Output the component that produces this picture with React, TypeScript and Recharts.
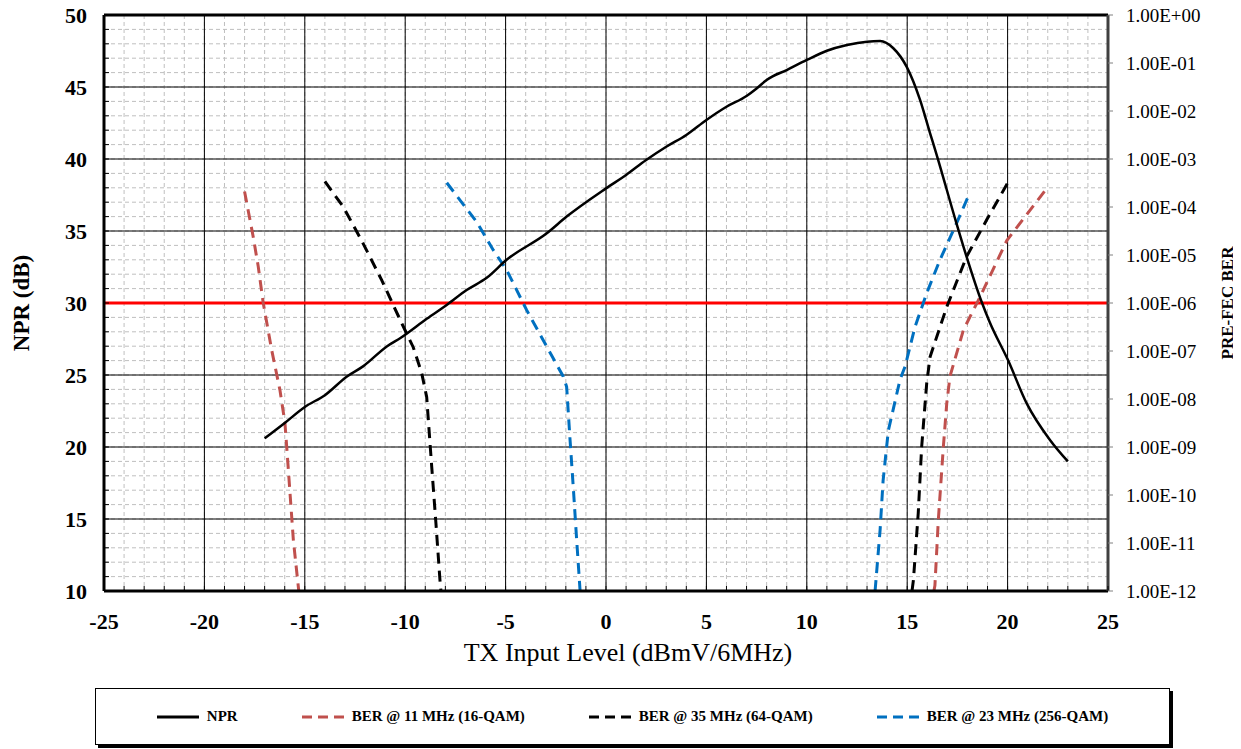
import React from "react";
import { LineChart, Line, XAxis, YAxis, CartesianGrid, ReferenceLine } from "recharts";

const FONT = "'Liberation Serif', 'Times New Roman', serif";

// NPR vs TX input level: [dBmV/6MHz, dB]
const nprCurve: [number, number][] = [
  [-17, 20.6], [-16, 21.67], [-15, 22.78], [-14, 23.6], [-12.9, 24.9], [-12.1, 25.6],
  [-10.9, 27.0], [-10.2, 27.6], [-8.93, 28.9], [-7.9, 29.9], [-6.94, 30.9], [-5.94, 31.75],
  [-4.95, 33.0], [-2.95, 34.84], [-1.96, 36.0], [0, 37.96], [1, 38.89], [2, 39.93],
  [3, 40.85], [4, 41.67], [5, 42.71], [6, 43.63], [7, 44.38], [7.5, 44.9], [8, 45.49],
  [9, 46.18], [10, 46.88], [11, 47.52], [12, 47.92], [13, 48.15], [13.65, 48.19],
  [14.31, 47.69], [14.97, 46.41], [15.64, 44.1], [16.14, 41.78], [16.4, 40.6],
  [17.46, 35.5], [17.96, 33.2], [18.7, 30.1], [19.1, 28.7], [20.03, 26.0],
  [20.95, 23.03], [22.11, 20.49], [23, 19.0],
];

// pre-FEC BER branches: [dBmV/6MHz, BER]
const ber16Low: [number, number][] = [
  [-18, 2.1e-4], [-17.57, 2.4e-5], [-17.32, 5.8e-6], [-17.07, 1.0e-6], [-16.65, 1.05e-7],
  [-16.24, 1.55e-8], [-15.99, 3.2e-9], [-15.9, 1.0e-9], [-15.57, 1.15e-11], [-15.3, 1e-12],
];
const ber16High: [number, number][] = [
  [16.33, 1e-12], [16.38, 1.3e-12], [16.55, 3.0e-11], [16.8, 1.0e-9], [16.97, 8.1e-9],
  [17.13, 2.95e-8], [17.8, 2.75e-7], [18.63, 1.35e-6], [19.96, 2.0e-5], [21.95, 2.45e-4],
];
const ber64Low: [number, number][] = [
  [-14, 3.4e-4], [-13.08, 1.0e-4], [-12.17, 2.0e-5], [-11.17, 3.0e-6], [-10.2, 4.0e-7],
  [-9.6, 1.2e-7], [-9.18, 3.5e-8], [-8.93, 1.1e-8], [-8.68, 3.9e-10], [-8.47, 2.6e-11],
  [-8.27, 1.7e-12], [-8.22, 1e-12],
];
const ber64High: [number, number][] = [
  [15.24, 1e-12], [15.31, 1.7e-12], [15.55, 4.2e-11], [15.72, 1.0e-9], [15.97, 2.1e-8],
  [16.14, 7.6e-8], [16.97, 8.3e-7], [17.96, 9.3e-6], [18.96, 5.4e-5], [19.99, 3.1e-4],
];
const ber256Low: [number, number][] = [
  [-7.93, 3.2e-4], [-6.44, 4.9e-5], [-5.61, 1.26e-5], [-4.95, 4.9e-6], [-3.95, 7.1e-7],
  [-2.95, 1.23e-7], [-2.13, 2.95e-8], [-1.96, 1.8e-8], [-1.79, 1.4e-9], [-1.62, 1.26e-10],
  [-1.46, 1.15e-11], [-1.29, 1e-12],
];
const ber256High: [number, number][] = [
  [13.4, 1e-12], [13.65, 1.86e-11], [13.8, 2.0e-10], [14.06, 2.2e-9], [14.64, 2.5e-8],
  [14.89, 4.7e-8], [15.39, 3.2e-7], [15.97, 1.6e-6], [16.63, 7.9e-6], [17.46, 4.6e-5],
  [18.04, 1.66e-4],
];

const nprThreshold = 30;

const xMajor = [-25, -20, -15, -10, -5, 0, 5, 10, 15, 20, 25];
const yMajor = [10, 15, 20, 25, 30, 35, 40, 45, 50];
const xMinor = Array.from({ length: 51 }, (_, i) => i - 25);
const yMinor = Array.from({ length: 41 }, (_, i) => i + 10);
const berTicks = [1, 1e-1, 1e-2, 1e-3, 1e-4, 1e-5, 1e-6, 1e-7, 1e-8, 1e-9, 1e-10, 1e-11, 1e-12];

const seriesNames = ["NPR", "BER @ 11 MHz (16-QAM)", "BER @ 35 MHz (64-QAM)", "BER @ 23 MHz (256-QAM)"];
const seriesColors = ["#000000", "#C0504D", "#000000", "#0070C0"];

const toNpr = (pts: [number, number][]) => pts.map(([x, v]) => ({ x, npr: v }));
const toBer = (pts: [number, number][]) => pts.map(([x, v]) => ({ x, ber: v }));

const fmtBer = (v: number) => {
  const e = Math.round(Math.log10(v));
  return `1.00E${e < 0 ? "-" : "+"}${String(Math.abs(e)).padStart(2, "0")}`;
};

const XTick = (props: any) => {
  const { x, y, payload } = props;
  const v = payload.value;
  return (
    <g>
      <line x1={x} x2={x} y1={y} y2={y - 5} stroke="#000" strokeWidth={1} />
      {v % 5 === 0 && (
        <text x={x} y={y + 38} textAnchor="middle" fontFamily={FONT} fontWeight="bold" fontSize={22} fill="#000">
          {v}
        </text>
      )}
    </g>
  );
};

const YTick = (props: any) => {
  const { x, y, payload } = props;
  const v = payload.value;
  return (
    <g>
      <line x1={x} x2={x + 5} y1={y} y2={y} stroke="#000" strokeWidth={1} />
      {v % 5 === 0 && (
        <text x={x - 17} y={y + 7.5} textAnchor="end" fontFamily={FONT} fontWeight="bold" fontSize={22} fill="#000">
          {v}
        </text>
      )}
    </g>
  );
};

const BerTick = (props: any) => {
  const { x, y, payload } = props;
  return (
    <g>
      <line x1={x} x2={x + 5} y1={y} y2={y} stroke="#808080" strokeWidth={1} />
      <text x={x + 18} y={y + 6.5} textAnchor="start" fontFamily={FONT} fontSize={19} fill="#000">
        {fmtBer(payload.value)}
      </text>
    </g>
  );
};

const LegendSwatch = ({ color, dashed }: { color: string; dashed: boolean }) => (
  <svg width={42} height={10} style={{ display: "block" }}>
    <line x1={0} x2={42} y1={5} y2={5} stroke={color} strokeWidth={3} strokeDasharray={dashed ? "10 6" : undefined} />
  </svg>
);

const App: React.FC = () => {
  const berLines = [
    { data: ber16Low, color: seriesColors[1] },
    { data: ber16High, color: seriesColors[1] },
    { data: ber64Low, color: seriesColors[2] },
    { data: ber64High, color: seriesColors[2] },
    { data: ber256Low, color: seriesColors[3] },
    { data: ber256High, color: seriesColors[3] },
  ];

  return (
    <div style={{ position: "relative", width: 1241, height: 749, margin: "-8px 0 0 -8px", fontFamily: FONT }}>
      <LineChart
        width={1241}
        height={681}
        margin={{ top: 15, right: 0, bottom: 0, left: 0 }}
        style={{ overflow: "visible" }}
      >
        <CartesianGrid
          horizontalValues={yMinor}
          verticalValues={xMinor}
          stroke="#bfbfbf"
          strokeDasharray="4 3"
          strokeWidth={1}
        />
        <CartesianGrid horizontalValues={yMajor} verticalValues={xMajor} stroke="#000" strokeWidth={1} />
        <XAxis
          dataKey="x"
          type="number"
          domain={[-25, 25]}
          ticks={xMinor}
          interval={0}
          allowDataOverflow
          height={90}
          tickSize={0}
          tickMargin={0}
          tickLine={false}
          axisLine={{ stroke: "#000", strokeWidth: 3 }}
          tick={<XTick />}
          label={{
            value: "TX Input Level (dBmV/6MHz)",
            position: "insideBottom",
            offset: 20,
            dx: 22,
            style: { fontFamily: FONT, fontSize: 26, fill: "#000" },
          }}
        />
        <YAxis
          type="number"
          domain={[10, 50]}
          ticks={yMinor}
          interval={0}
          allowDataOverflow
          width={104}
          tickSize={0}
          tickMargin={0}
          tickLine={false}
          axisLine={{ stroke: "#000", strokeWidth: 3 }}
          tick={<YTick />}
          label={{
            value: "NPR (dB)",
            angle: -90,
            position: "insideLeft",
            offset: 21,
            style: { fontFamily: FONT, fontSize: 23, fontWeight: "bold", fill: "#000", textAnchor: "middle" },
          }}
        />
        <YAxis
          yAxisId="ber"
          orientation="right"
          type="number"
          scale="log"
          domain={[1e-12, 1]}
          ticks={berTicks}
          interval={0}
          allowDataOverflow
          width={133}
          tickSize={0}
          tickMargin={0}
          tickLine={false}
          axisLine={{ stroke: "#404040", strokeWidth: 3 }}
          tick={<BerTick />}
          label={{
            value: "PRE-FEC BER",
            angle: -90,
            position: "insideRight",
            offset: 14,
            style: { fontFamily: FONT, fontSize: 17, fontWeight: "bold", fill: "#000", textAnchor: "middle" },
          }}
        />
        <ReferenceLine y={50} stroke="#000" strokeWidth={3} />
        <ReferenceLine y={nprThreshold} stroke="#FF0000" strokeWidth={3} />
        {berLines.map((b, i) => (
          <Line
            key={i}
            yAxisId="ber"
            data={toBer(b.data)}
            dataKey="ber"
            type="linear"
            stroke={b.color}
            strokeWidth={3}
            strokeDasharray="11 7"
            dot={false}
            activeDot={false}
            isAnimationActive={false}
          />
        ))}
        <Line
          data={toNpr(nprCurve)}
          dataKey="npr"
          type="monotone"
          stroke={seriesColors[0]}
          strokeWidth={2.5}
          dot={false}
          activeDot={false}
          isAnimationActive={false}
        />
      </LineChart>
      <div
        style={{
          position: "absolute",
          left: 95,
          top: 688,
          width: 1075,
          height: 57,
          boxSizing: "border-box",
          border: "1px solid #000",
          boxShadow: "3px 3px 0 #000",
          background: "#fff",
          display: "flex",
          alignItems: "center",
          justifyContent: "center",
          gap: 64,
        }}
      >
        {seriesNames.map((name, i) => (
          <div key={name} style={{ display: "flex", alignItems: "center", gap: 8 }}>
            <LegendSwatch color={seriesColors[i]} dashed={i > 0} />
            <span style={{ fontFamily: FONT, fontWeight: "bold", fontSize: 15, color: "#000", whiteSpace: "nowrap" }}>
              {name}
            </span>
          </div>
        ))}
      </div>
    </div>
  );
};

export default App;
